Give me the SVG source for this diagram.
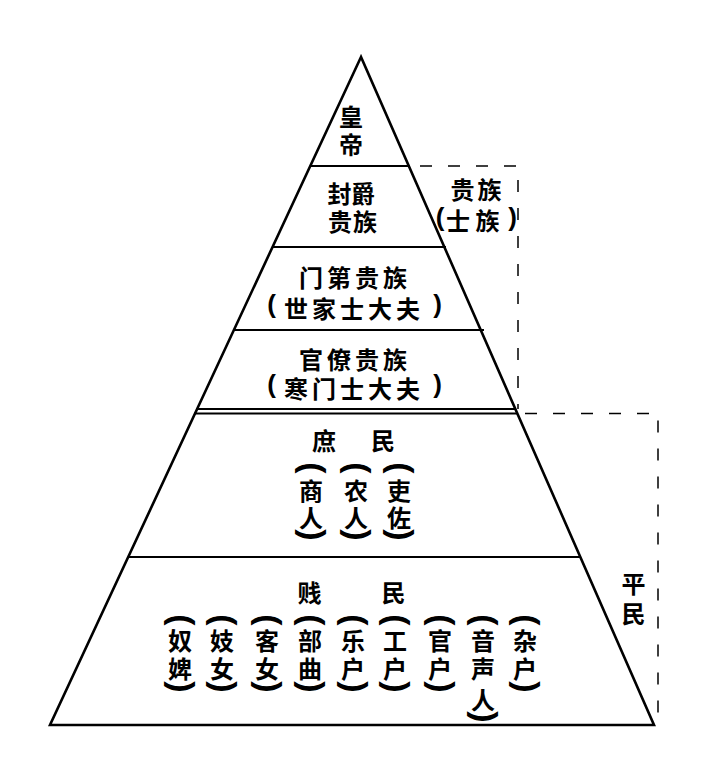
<svg xmlns="http://www.w3.org/2000/svg" width="724" height="772" viewBox="0 0 724 772">
<style>
.edge{fill:none;stroke:#000;stroke-width:2.6;stroke-linejoin:miter}
.tier{stroke:#000;stroke-width:1.8}
.dash{fill:none;stroke:#000;stroke-width:1.5;stroke-dasharray:12 16}
text{font-family:"Noto Sans CJK SC","Noto Sans CJK JP",sans-serif;font-weight:700;fill:#000;text-anchor:middle;dominant-baseline:central;font-size:24px}
.p{font-family:"Liberation Sans",Arial,sans-serif;font-size:26px}
.vp{font-family:"Liberation Sans",Arial,sans-serif;font-size:34px}
</style>
<rect width="724" height="772" fill="#fff"/>
<g id="pyramid">
<polygon class="edge" points="361,57 50,725 654,725"/>
</g>
<g id="tier-emperor">
<line class="tier" x1="310" y1="166" x2="410" y2="166"/>
<text><tspan x="351" y="115">皇</tspan><tspan x="351" y="142.5">帝</tspan></text>
</g>
<g id="tier-fengjue">
<line class="tier" x1="272" y1="247" x2="446" y2="247"/>
<text><tspan x="339.5 363" y="192">封爵</tspan><tspan x="340 365" y="220">贵族</tspan></text>
</g>
<g id="tier-mendi">
<line class="tier" x1="233" y1="330" x2="484" y2="330"/>
<text><tspan x="311 339 367 395" y="276">门第贵族</tspan><tspan class="p" x="271.5" y="304">(</tspan><tspan x="296 324 352 380 408" y="306.5">世家士大夫</tspan><tspan class="p" x="437.5" y="304">)</tspan></text>
</g>
<g id="tier-guanliao">
<line class="tier" x1="196" y1="409" x2="516" y2="409"/>
<line class="tier" x1="194" y1="413.5" x2="518" y2="413.5"/>
<text><tspan x="311 339 367 395" y="357.5">官僚贵族</tspan><tspan class="p" x="271.5" y="384">(</tspan><tspan x="296 324 352 380 408" y="386.5">寒门士大夫</tspan><tspan class="p" x="437.5" y="384">)</tspan></text>
</g>
<g id="tier-shumin">
<line class="tier" x1="128" y1="557" x2="580" y2="557"/>
<text x="324 383" y="439">庶民</text>
<g id="col-shangren">
<text class="vp" x="314" y="468" transform="rotate(90 314 468)">(</text>
<text><tspan x="311" y="489">商</tspan><tspan x="311" y="516">人</tspan></text>
<text class="vp" x="314" y="535" transform="rotate(90 314 535)">)</text>
</g>
<g id="col-nongren">
<text class="vp" x="359" y="468" transform="rotate(90 359 468)">(</text>
<text><tspan x="356" y="489">农</tspan><tspan x="356" y="516">人</tspan></text>
<text class="vp" x="359" y="535" transform="rotate(90 359 535)">)</text>
</g>
<g id="col-lizuo">
<text class="vp" x="402" y="468" transform="rotate(90 402 468)">(</text>
<text><tspan x="399" y="489">吏</tspan><tspan x="399" y="516">佐</tspan></text>
<text class="vp" x="402" y="535" transform="rotate(90 402 535)">)</text>
</g>
</g>
<g id="tier-jianmin">
<text x="309.5 393.5" y="591.5">贱民</text>
<g id="col-nubi"><text class="vp" x="183" y="620" transform="rotate(90 183 620)">(</text><text><tspan x="180" y="639">奴</tspan><tspan x="180" y="666.5">婢</tspan></text><text class="vp" x="183" y="687" transform="rotate(90 183 687)">)</text></g>
<g id="col-jinv"><text class="vp" x="225" y="620" transform="rotate(90 225 620)">(</text><text><tspan x="222" y="639">妓</tspan><tspan x="222" y="666.5">女</tspan></text><text class="vp" x="225" y="687" transform="rotate(90 225 687)">)</text></g>
<g id="col-kenv"><text class="vp" x="270" y="620" transform="rotate(90 270 620)">(</text><text><tspan x="267" y="639">客</tspan><tspan x="267" y="666.5">女</tspan></text><text class="vp" x="270" y="687" transform="rotate(90 270 687)">)</text></g>
<g id="col-buqu"><text class="vp" x="313" y="620" transform="rotate(90 313 620)">(</text><text><tspan x="310" y="639">部</tspan><tspan x="310" y="666.5">曲</tspan></text><text class="vp" x="313" y="687" transform="rotate(90 313 687)">)</text></g>
<g id="col-yuehu"><text class="vp" x="356" y="620" transform="rotate(90 356 620)">(</text><text><tspan x="353" y="639">乐</tspan><tspan x="353" y="666.5">户</tspan></text><text class="vp" x="356" y="687" transform="rotate(90 356 687)">)</text></g>
<g id="col-gonghu"><text class="vp" x="398" y="620" transform="rotate(90 398 620)">(</text><text><tspan x="395" y="639">工</tspan><tspan x="395" y="666.5">户</tspan></text><text class="vp" x="398" y="687" transform="rotate(90 398 687)">)</text></g>
<g id="col-guanhu"><text class="vp" x="443" y="620" transform="rotate(90 443 620)">(</text><text><tspan x="440" y="639">官</tspan><tspan x="440" y="666.5">户</tspan></text><text class="vp" x="443" y="687" transform="rotate(90 443 687)">)</text></g>
<g id="col-yinshengren"><text class="vp" x="486" y="620" transform="rotate(90 486 620)">(</text><text><tspan x="483" y="639">音</tspan><tspan x="483" y="666.5">声</tspan><tspan x="483" y="698">人</tspan></text><text class="vp" x="486" y="717" transform="rotate(90 486 717)">)</text></g>
<g id="col-zahu"><text class="vp" x="528" y="620" transform="rotate(90 528 620)">(</text><text><tspan x="525" y="639">杂</tspan><tspan x="525" y="666.5">户</tspan></text><text class="vp" x="528" y="687" transform="rotate(90 528 687)">)</text></g>
</g>
<g id="label-guizu">
<text><tspan x="462.5 489.5" y="187.5">贵族</tspan><tspan class="p" x="440" y="216.5">(</tspan><tspan x="458 487.5" y="218.5">士族</tspan><tspan class="p" x="512.5" y="216.5">)</tspan></text>
</g>
<g id="label-pingmin">
<text><tspan x="633.5" y="581.5">平</tspan><tspan x="633.5" y="611.5">民</tspan></text>
</g>
<g id="connectors">
<polyline class="dash" points="420,166 518,166 518,409"/>
<polyline class="dash" points="525,413.5 658,413.5 658,725"/>
</g>
</svg>
